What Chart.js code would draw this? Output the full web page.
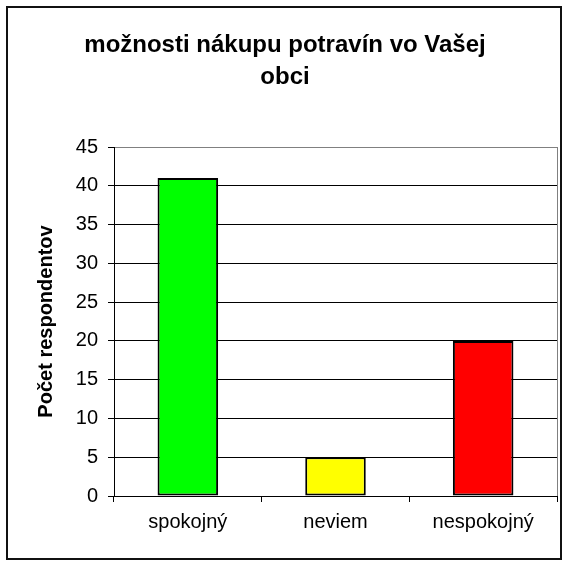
<!DOCTYPE html>
<html lang="sk">
<head>
    <meta charset="UTF-8">
    <title>možnosti nákupu potravín vo Vašej obci</title>
    <style>
        body {
            margin: 0;
            padding: 0;
            background: #fff;
            overflow: hidden;
        }
        .frame {
            position: absolute;
            left: 6px;
            top: 6px;
            width: 552px;
            height: 550px;
            border: 2px solid #111;
            pointer-events: none;
        }
        #chart {
            position: absolute;
            left: 0;
            top: 0;
        }
    </style>
</head>
<body>
    <canvas id="chart" width="570" height="568"></canvas>
    <div class="frame"></div>

    <script src="https://cdn.jsdelivr.net/npm/chart.js"></script>
    <script>
        // data
        const categories = ['spokojný', 'neviem', 'nespokojný'];
        const respondents = [41, 5, 20];
        const barColors = ['#00ff00', '#ffff00', '#ff0000'];
        const titleLines = ['možnosti nákupu potravín vo Vašej', 'obci'];
        const yTitle = 'Počet respondentov';
        const yMin = 0, yMax = 45, yStep = 5;

        const font = 'Arial, "Liberation Sans", sans-serif';

        const ctx = document.getElementById('chart').getContext('2d');
        const chart = new Chart(ctx, {
            type: 'bar',
            data: {
                labels: categories,
                datasets: [{
                    data: respondents,
                    backgroundColor: barColors,
                    borderColor: '#000',
                    borderWidth: 2,
                    borderSkipped: false,
                    categoryPercentage: 1,
                    barPercentage: 0.41
                }]
            },
            options: {
                responsive: false,
                animation: false,
                devicePixelRatio: 1,
                layout: {
                    // same padding left and right so the title sits in the middle
                    padding: { left: 13, right: 13, top: 0, bottom: 0 }
                },
                plugins: {
                    legend: { display: false },
                    tooltip: { enabled: false },
                    title: {
                        display: true,
                        text: titleLines,
                        color: '#000',
                        font: { family: font, size: 24, weight: 'bold', lineHeight: 32 / 24 },
                        padding: { top: 29, bottom: 54 }
                    }
                },
                scales: {
                    x: {
                        grid: {
                            offset: true,
                            drawOnChartArea: true,
                            // only the right edge of the plot gets a line
                            color: c => c.type === 'scale' ? '#808080' : 'rgba(0,0,0,0)',
                            tickColor: '#000',
                            tickLength: 6
                        },
                        border: { color: '#000', width: 1 },
                        ticks: {
                            color: '#000',
                            padding: 8,
                            font: { family: font, size: 20 }
                        },
                        afterFit: s => { s.height = 72; }
                    },
                    y: {
                        min: yMin,
                        max: yMax,
                        ticks: {
                            stepSize: yStep,
                            color: '#000',
                            padding: 10,
                            font: { family: font, size: 20 }
                        },
                        grid: {
                            color: c => (c.tick && c.tick.value === yMax) ? '#808080' : '#000',
                            tickColor: '#000',
                            tickLength: 6
                        },
                        border: { color: '#000', width: 1 },
                        title: {
                            display: true,
                            text: yTitle,
                            color: '#000',
                            font: { family: font, size: 20, weight: 'bold' },
                            padding: { top: 21, bottom: 0 }
                        },
                        afterFit: s => { s.width = 101; }
                    }
                }
            }
        });
    </script>
</body>
</html>
